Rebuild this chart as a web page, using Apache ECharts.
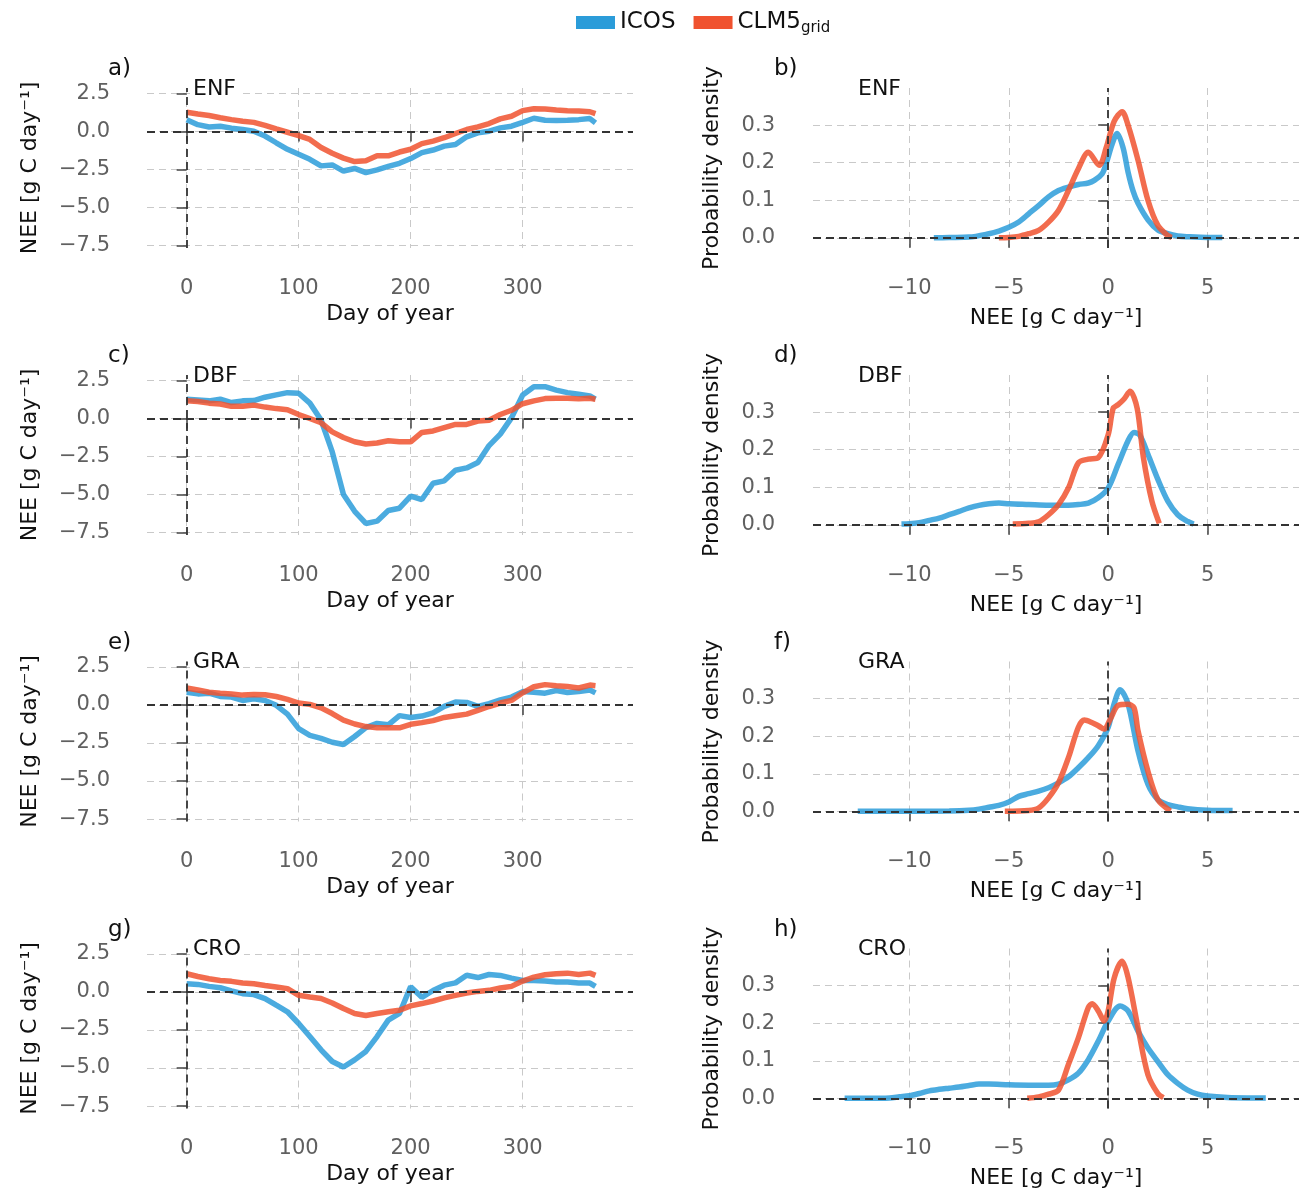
<!DOCTYPE html>
<html>
<head>
<meta charset="utf-8">
<script src="https://cdn.jsdelivr.net/npm/echarts@6/dist/echarts.min.js"></script>
<style>
  html, body { margin: 0; padding: 0; background: #fff; }
  #chart { width: 1299px; height: 1192px; }
</style>
</head>
<body>
<div id="chart"></div>
<script>
// seasonal cycle, sampled every 10 days
const days = [0, 10, 20, 30, 40, 50, 60, 70, 80, 90, 100, 110, 120, 130, 140, 150, 160, 170, 180,
  190, 200, 210, 220, 230, 240, 250, 260, 270, 280, 290, 300, 310, 320, 330, 340, 350, 360, 365];

const enfIcos = [0.78, 0.45, 0.3, 0.35, 0.22, 0.13, 0.02, -0.3, -0.74, -1.17, -1.5, -1.83, -2.26, -2.2, -2.6, -2.43, -2.7, -2.52, -2.3,
  -2.09, -1.78, -1.39, -1.22, -0.96, -0.85, -0.35, -0.09, 0.02, 0.24, 0.35, 0.6, 0.87, 0.74, 0.72, 0.74, 0.78, 0.85, 0.57];
const enfClm = [1.26, 1.15, 1.05, 0.9, 0.78, 0.67, 0.6, 0.4, 0.17, -0.05, -0.27, -0.52, -1.05, -1.43, -1.75, -1.98, -1.93, -1.6, -1.6,
  -1.35, -1.17, -0.8, -0.63, -0.41, -0.13, 0.13, 0.3, 0.52, 0.83, 1.0, 1.37, 1.5, 1.48, 1.41, 1.37, 1.35, 1.3, 1.17];

const dbfIcos = [1.27, 1.22, 1.16, 1.27, 1.05, 1.16, 1.18, 1.4, 1.55, 1.7, 1.66, 1.01, -0.1, -2.2, -5.0, -6.1, -6.9, -6.75, -6.05,
  -5.9, -5.1, -5.33, -4.26, -4.1, -3.4, -3.25, -2.9, -1.78, -1.03, 0.04, 1.55, 2.09, 2.09, 1.87, 1.7, 1.59, 1.48, 1.27];
const dbfClm = [1.16, 1.12, 1.01, 0.95, 0.8, 0.8, 0.88, 0.75, 0.65, 0.58, 0.26, 0.0, -0.28, -0.88, -1.25, -1.53, -1.68, -1.61, -1.46,
  -1.53, -1.53, -0.92, -0.82, -0.6, -0.39, -0.39, -0.17, -0.11, 0.26, 0.54, 0.97, 1.16, 1.31, 1.33, 1.33, 1.29, 1.33, 1.27];

const graIcos = [0.84, 0.73, 0.78, 0.56, 0.52, 0.3, 0.41, 0.3, -0.02, -0.6, -1.55, -2.0, -2.2, -2.45, -2.6, -2.07, -1.49, -1.21, -1.3,
  -0.7, -0.82, -0.73, -0.52, -0.09, 0.19, 0.17, -0.09, 0.09, 0.34, 0.52, 0.88, 0.84, 0.78, 0.95, 0.82, 0.88, 0.99, 0.8];
const graClm = [1.12, 0.99, 0.84, 0.78, 0.73, 0.65, 0.69, 0.67, 0.56, 0.37, 0.13, 0.04, -0.19, -0.56, -0.99, -1.25, -1.42, -1.49, -1.5,
  -1.5, -1.27, -1.16, -1.03, -0.82, -0.71, -0.6, -0.35, -0.1, 0.13, 0.3, 0.8, 1.2, 1.34, 1.27, 1.21, 1.12, 1.31, 1.27];

const croIcos = [0.54, 0.5, 0.37, 0.28, 0.07, -0.11, -0.17, -0.43, -0.87, -1.3, -2.07, -2.93, -3.8, -4.57, -4.93, -4.46, -3.91, -2.93, -1.85,
  -1.41, 0.35, -0.35, 0.1, 0.45, 0.6, 1.1, 0.95, 1.15, 1.09, 0.91, 0.76, 0.76, 0.72, 0.65, 0.65, 0.59, 0.59, 0.37];
const croClm = [1.2, 1.02, 0.87, 0.76, 0.7, 0.59, 0.54, 0.43, 0.33, 0.22, -0.22, -0.33, -0.43, -0.72, -1.09, -1.41, -1.55, -1.41, -1.3,
  -1.2, -0.91, -0.76, -0.59, -0.39, -0.22, -0.07, 0.04, 0.11, 0.26, 0.37, 0.72, 0.98, 1.13, 1.2, 1.24, 1.15, 1.24, 1.09];

// probability density of daily NEE (x = NEE, y = density)
const enfIcosNee = [-8.77, -8, -7, -6, -5.5, -5, -4.5, -4, -3.5, -3, -2.5, -2, -1.5, -1, -0.7, -0.3, -0.1, 0.2, 0.45, 0.75, 1, 1.25, 1.5, 2, 2.5, 3, 3.5, 4, 5, 5.74];
const enfIcosPdf = [0, 0.001, 0.002, 0.011, 0.018, 0.028, 0.042, 0.064, 0.086, 0.109, 0.126, 0.135, 0.142, 0.146, 0.153, 0.171, 0.198, 0.25, 0.278, 0.24, 0.175, 0.125, 0.092, 0.048, 0.021, 0.011, 0.005, 0.003, 0.001, 0.001];
const enfClmNee = [-5.5, -5, -4.5, -4, -3.5, -3, -2.5, -2, -1.5, -1, -0.45, -0.1, 0.3, 0.7, 1, 1.5, 2, 2.5, 3, 3.2];
const enfClmPdf = [0, 0.001, 0.004, 0.011, 0.02, 0.042, 0.073, 0.126, 0.184, 0.228, 0.193, 0.24, 0.31, 0.336, 0.30, 0.207, 0.1, 0.033, 0.006, 0.001];

const dbfIcosNee = [-10.4, -10, -9.5, -9, -8.5, -8, -7.5, -7, -6.5, -6, -5.5, -5, -4, -3, -2, -1.5, -1, -0.5, 0, 0.5, 1, 1.3, 1.6, 2, 2.5, 3, 3.5, 4, 4.3];
const dbfIcosPdf = [0.002, 0.003, 0.006, 0.012, 0.018, 0.027, 0.036, 0.045, 0.052, 0.056, 0.058, 0.056, 0.054, 0.052, 0.052, 0.054, 0.058, 0.072, 0.098, 0.161, 0.224, 0.246, 0.238, 0.188, 0.121, 0.063, 0.027, 0.009, 0.002];
const dbfClmNee = [-4.8, -4, -3.5, -3, -2.5, -2, -1.5, -1, -0.5, 0, 0.25, 0.5, 0.8, 1.1, 1.46, 1.77, 2.2, 2.57];
const dbfClmPdf = [0.002, 0.004, 0.008, 0.027, 0.054, 0.098, 0.165, 0.175, 0.179, 0.24, 0.31, 0.32, 0.335, 0.356, 0.31, 0.18, 0.063, 0.004];

const graIcosNee = [-12.6, -10, -8, -7, -6.5, -6, -5.5, -5, -4.5, -4, -3.5, -3, -2.5, -2, -1.5, -1, -0.5, 0, 0.3, 0.6, 1, 1.5, 2, 2.5, 3, 3.5, 4, 5, 6.26];
const graIcosPdf = [0, 0, 0.001, 0.003, 0.006, 0.011, 0.016, 0.025, 0.04, 0.047, 0.054, 0.063, 0.076, 0.092, 0.116, 0.143, 0.175, 0.224, 0.286, 0.324, 0.286, 0.161, 0.072, 0.031, 0.018, 0.012, 0.007, 0.003, 0.002];
const graClmNee = [-5.2, -4, -3.5, -3, -2.5, -2, -1.5, -1.2, -0.8, -0.5, -0.2, 0.1, 0.5, 1, 1.3, 1.5, 2, 2.5, 3.13];
const graClmPdf = [0, 0.002, 0.009, 0.036, 0.076, 0.143, 0.224, 0.243, 0.236, 0.228, 0.219, 0.245, 0.282, 0.285, 0.276, 0.215, 0.107, 0.031, 0.001];

const croIcosNee = [-13.26, -12, -11, -10.5, -10, -9.5, -9, -8.5, -8, -7.5, -7, -6.5, -6, -5, -4, -3, -2.5, -2, -1.5, -1, -0.5, 0, 0.6, 1, 1.5, 2, 2.5, 3, 3.5, 4, 4.5, 5, 6, 7, 7.93];
const croIcosPdf = [0, 0, 0.001, 0.004, 0.007, 0.013, 0.02, 0.024, 0.027, 0.03, 0.034, 0.038, 0.038, 0.036, 0.035, 0.035, 0.038, 0.049, 0.067, 0.103, 0.152, 0.206, 0.246, 0.233, 0.179, 0.134, 0.098, 0.063, 0.04, 0.022, 0.011, 0.006, 0.002, 0.001, 0.001];
const croClmNee = [-4.07, -3.5, -3, -2.5, -2, -1.5, -1, -0.8, -0.5, -0.2, 0, 0.3, 0.7, 1, 1.5, 2, 2.5, 2.78];
const croClmPdf = [0, 0.004, 0.011, 0.022, 0.09, 0.161, 0.242, 0.252, 0.233, 0.206, 0.233, 0.32, 0.365, 0.322, 0.188, 0.063, 0.013, 0.002];

const sites = ['ENF', 'DBF', 'GRA', 'CRO'];
const letters = [['a)', 'b)'], ['c)', 'd)'], ['e)', 'f)'], ['g)', 'h)']];
const seasonal = [[enfIcos, enfClm], [dbfIcos, dbfClm], [graIcos, graClm], [croIcos, croClm]];
const densities = [
  [[enfIcosNee, enfIcosPdf], [enfClmNee, enfClmPdf]],
  [[dbfIcosNee, dbfIcosPdf], [dbfClmNee, dbfClmPdf]],
  [[graIcosNee, graIcosPdf], [graClmNee, graClmPdf]],
  [[croIcosNee, croIcosPdf], [croClmNee, croClmPdf]]
];
const doyTicks = [0, 100, 200, 300];
const neeTicks = [-7.5, -5, -2.5, 0, 2.5];
const pdfNeeTicks = [-10, -5, 0, 5];
const pdfTicks = [0, 0.1, 0.2, 0.3];

const FONT = 'DejaVu Sans';
const BLUE = '#2b9cd9';
const RED = '#f0522f';
const rowShift = [0, 287, 573.5, 860.5];

const pair = (xs, ys) => xs.map((x, i) => [x, ys[i]]);
const minus = v => String(v).replace('-', '\u2212');

function axisCommon(ticks, fmt, margin) {
  return {
    type: 'value',
    axisLine: { show: false },
    axisTick: { show: true, length: 10, customValues: ticks, lineStyle: { color: '#444', width: 1.5 } },
    axisLabel: { customValues: ticks, margin: margin, fontFamily: FONT, fontSize: 21, color: '#606060', formatter: fmt },
    splitLine: { show: true, lineStyle: { color: '#c9c9c9', width: 1, type: [7, 5] } },
    nameTextStyle: { fontFamily: FONT, fontSize: 22, color: '#111' },
    nameLocation: 'middle'
  };
}

const zeroLines = {
  silent: true,
  symbol: ['none', 'none'],
  label: { show: false },
  lineStyle: { color: '#333', type: [8, 5], width: 1.8 },
  data: [{ yAxis: 0 }, { xAxis: 0 }]
};

const grid = [], xAxis = [], yAxis = [], series = [], title = [];

sites.forEach((site, r) => {
  const top = 88 + rowShift[r];
  // left: seasonal cycle
  grid.push({ left: 147, top: top, width: 486, height: 160 });
  xAxis.push(Object.assign(axisCommon(doyTicks, v => String(v), 30), {
    gridIndex: 2 * r, min: -35.4, max: 398.5, name: 'Day of year', nameGap: 55
  }));
  yAxis.push(Object.assign(axisCommon(neeTicks, v => minus(v.toFixed(1)), 37), {
    gridIndex: 2 * r, min: -7.66, max: 2.86, name: 'NEE [g C day\u207B\u00B9]', nameGap: 106
  }));
  // right: density
  grid.push({ left: 813, top: top, width: 486, height: 160 });
  xAxis.push(Object.assign(axisCommon(pdfNeeTicks, v => minus(v), 30), {
    gridIndex: 2 * r + 1, min: -14.85, max: 9.6, name: 'NEE [g C day\u207B\u00B9]', nameGap: 59
  }));
  yAxis.push(Object.assign(axisCommon(pdfTicks, v => v.toFixed(1), 38), {
    gridIndex: 2 * r + 1, min: -0.027, max: 0.399, name: 'Probability density', nameGap: 90
  }));

  const [icos, clm] = seasonal[r];
  const lineBase = { type: 'line', showSymbol: false, animation: false };
  series.push(Object.assign({}, lineBase, {
    name: 'ICOS', xAxisIndex: 2 * r, yAxisIndex: 2 * r, color: BLUE,
    lineStyle: { width: 5.5, opacity: 0.85 }, data: pair(days, icos), markLine: zeroLines
  }));
  series.push(Object.assign({}, lineBase, {
    name: 'CLM5grid', xAxisIndex: 2 * r, yAxisIndex: 2 * r, color: RED,
    lineStyle: { width: 5.5, opacity: 0.85 }, data: pair(days, clm)
  }));
  const [[ix, iy], [cx, cy]] = densities[r];
  series.push(Object.assign({}, lineBase, {
    name: 'ICOS', xAxisIndex: 2 * r + 1, yAxisIndex: 2 * r + 1, color: BLUE, smooth: 0.3,
    lineStyle: { width: 5.5, opacity: 0.85 }, data: pair(ix, iy), markLine: zeroLines
  }));
  series.push(Object.assign({}, lineBase, {
    name: 'CLM5grid', xAxisIndex: 2 * r + 1, yAxisIndex: 2 * r + 1, color: RED, smooth: 0.3,
    lineStyle: { width: 5.5, opacity: 0.85 }, data: pair(cx, cy)
  }));

  const letterStyle = { fontFamily: FONT, fontSize: 23, color: '#111', fontWeight: 'normal' };
  const siteStyle = { fontFamily: FONT, fontSize: 22, color: '#111', fontWeight: 'normal' };
  title.push({ text: letters[r][0], left: 108, top: 58 + rowShift[r], padding: 0, textStyle: letterStyle });
  title.push({ text: letters[r][1], left: 774, top: 58 + rowShift[r], padding: 0, textStyle: letterStyle });
  title.push({ text: site, left: 190, top: 78 + rowShift[r], padding: [0, 3], backgroundColor: '#fff', textStyle: siteStyle });
  title.push({ text: site, left: 855, top: 78 + rowShift[r], padding: [0, 3], backgroundColor: '#fff', textStyle: siteStyle });
});

const chart = echarts.init(document.getElementById('chart'));
chart.setOption({
  backgroundColor: '#fff',
  animation: false,
  title: title,
  legend: {
    left: 571,
    top: 6,
    icon: 'rect',
    itemWidth: 39,
    itemHeight: 13,
    itemGap: 18,
    data: [
      { name: 'ICOS', itemStyle: { color: BLUE, opacity: 1 } },
      { name: 'CLM5grid', itemStyle: { color: RED, opacity: 1 } }
    ],
    formatter: name => name === 'CLM5grid' ? '{m|CLM5}{s|grid}' : '{m|' + name + '}',
    textStyle: {
      rich: {
        m: { fontFamily: FONT, fontSize: 23, color: '#111', verticalAlign: 'middle' },
        s: { fontFamily: FONT, fontSize: 15, color: '#111', padding: [12, 0, 0, 0], verticalAlign: 'middle' }
      }
    }
  },
  grid: grid,
  xAxis: xAxis,
  yAxis: yAxis,
  series: series
});
</script>
</body>
</html>
